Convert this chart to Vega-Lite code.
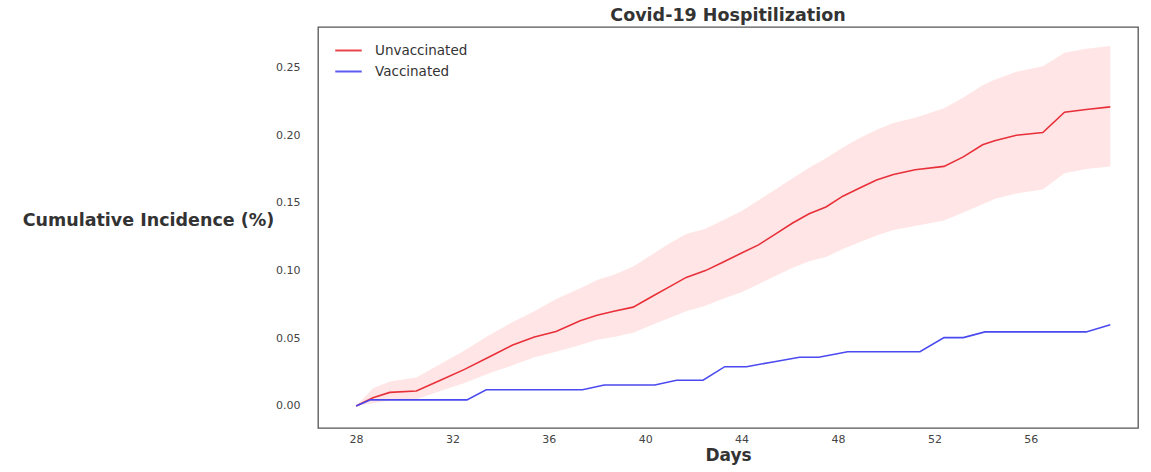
{
  "$schema": "https://vega.github.io/schema/vega-lite/v6.json",
  "autosize": {"type": "none"},
  "padding": {"left": 318, "top": 27, "right": 13, "bottom": 44},
  "width": 820,
  "height": 401,
  "background": "white",
  "config": {
    "font": "DejaVu Sans",
    "view": {"stroke": "#555555", "strokeWidth": 1.3},
    "axis": {"grid": false, "domain": false, "ticks": false, "labelColor": "#444444", "labelFontSize": 11, "labelFont": "DejaVu Sans", "titleFont": "DejaVu Sans", "titleColor": "#333333"}
  },
  "title": {"text": "Covid-19 Hospitilization", "fontSize": 17.5, "fontWeight": "bold", "color": "#333333", "offset": 3, "font": "DejaVu Sans"},
  "data": {"values": [
    {"day": 28.0, "group": "Unvaccinated", "value": 0.0, "lo": 0.0, "hi": 0.0},
    {"day": 28.7, "group": "Unvaccinated", "value": 0.006, "lo": 0.002, "hi": 0.013},
    {"day": 29.4, "group": "Unvaccinated", "value": 0.010, "lo": 0.004, "hi": 0.018},
    {"day": 30.5, "group": "Unvaccinated", "value": 0.011, "lo": 0.005, "hi": 0.021},
    {"day": 31.5, "group": "Unvaccinated", "value": 0.019, "lo": 0.011, "hi": 0.031},
    {"day": 32.5, "group": "Unvaccinated", "value": 0.027, "lo": 0.017, "hi": 0.041},
    {"day": 33.5, "group": "Unvaccinated", "value": 0.036, "lo": 0.024, "hi": 0.052},
    {"day": 34.5, "group": "Unvaccinated", "value": 0.045, "lo": 0.030, "hi": 0.062},
    {"day": 35.4, "group": "Unvaccinated", "value": 0.051, "lo": 0.036, "hi": 0.070},
    {"day": 36.3, "group": "Unvaccinated", "value": 0.055, "lo": 0.040, "hi": 0.079},
    {"day": 37.3, "group": "Unvaccinated", "value": 0.063, "lo": 0.045, "hi": 0.087},
    {"day": 38.0, "group": "Unvaccinated", "value": 0.067, "lo": 0.049, "hi": 0.093},
    {"day": 38.7, "group": "Unvaccinated", "value": 0.070, "lo": 0.051, "hi": 0.097},
    {"day": 39.5, "group": "Unvaccinated", "value": 0.073, "lo": 0.054, "hi": 0.103},
    {"day": 40.3, "group": "Unvaccinated", "value": 0.081, "lo": 0.060, "hi": 0.112},
    {"day": 41.0, "group": "Unvaccinated", "value": 0.088, "lo": 0.065, "hi": 0.120},
    {"day": 41.7, "group": "Unvaccinated", "value": 0.095, "lo": 0.070, "hi": 0.127},
    {"day": 42.5, "group": "Unvaccinated", "value": 0.100, "lo": 0.074, "hi": 0.131},
    {"day": 43.2, "group": "Unvaccinated", "value": 0.106, "lo": 0.079, "hi": 0.137},
    {"day": 44.0, "group": "Unvaccinated", "value": 0.113, "lo": 0.084, "hi": 0.144},
    {"day": 44.7, "group": "Unvaccinated", "value": 0.119, "lo": 0.090, "hi": 0.152},
    {"day": 45.4, "group": "Unvaccinated", "value": 0.127, "lo": 0.096, "hi": 0.160},
    {"day": 46.1, "group": "Unvaccinated", "value": 0.135, "lo": 0.102, "hi": 0.168},
    {"day": 46.8, "group": "Unvaccinated", "value": 0.142, "lo": 0.107, "hi": 0.176},
    {"day": 47.5, "group": "Unvaccinated", "value": 0.147, "lo": 0.110, "hi": 0.183},
    {"day": 48.2, "group": "Unvaccinated", "value": 0.155, "lo": 0.116, "hi": 0.191},
    {"day": 48.9, "group": "Unvaccinated", "value": 0.161, "lo": 0.121, "hi": 0.198},
    {"day": 49.6, "group": "Unvaccinated", "value": 0.167, "lo": 0.126, "hi": 0.204},
    {"day": 50.3, "group": "Unvaccinated", "value": 0.171, "lo": 0.130, "hi": 0.209},
    {"day": 51.2, "group": "Unvaccinated", "value": 0.1745, "lo": 0.133, "hi": 0.213},
    {"day": 52.4, "group": "Unvaccinated", "value": 0.177, "lo": 0.137, "hi": 0.220},
    {"day": 53.2, "group": "Unvaccinated", "value": 0.184, "lo": 0.143, "hi": 0.228},
    {"day": 54.0, "group": "Unvaccinated", "value": 0.193, "lo": 0.149, "hi": 0.237},
    {"day": 54.5, "group": "Unvaccinated", "value": 0.196, "lo": 0.153, "hi": 0.241},
    {"day": 55.4, "group": "Unvaccinated", "value": 0.200, "lo": 0.157, "hi": 0.247},
    {"day": 56.5, "group": "Unvaccinated", "value": 0.202, "lo": 0.160, "hi": 0.251},
    {"day": 57.4, "group": "Unvaccinated", "value": 0.217, "lo": 0.172, "hi": 0.261},
    {"day": 58.3, "group": "Unvaccinated", "value": 0.219, "lo": 0.175, "hi": 0.264},
    {"day": 59.3, "group": "Unvaccinated", "value": 0.221, "lo": 0.177, "hi": 0.266},
    {"day": 28.0, "group": "Vaccinated", "value": 0.0},
    {"day": 28.6, "group": "Vaccinated", "value": 0.0045},
    {"day": 32.6, "group": "Vaccinated", "value": 0.0045},
    {"day": 33.4, "group": "Vaccinated", "value": 0.012},
    {"day": 37.4, "group": "Vaccinated", "value": 0.012},
    {"day": 38.3, "group": "Vaccinated", "value": 0.0155},
    {"day": 40.4, "group": "Vaccinated", "value": 0.0155},
    {"day": 41.3, "group": "Vaccinated", "value": 0.019},
    {"day": 42.4, "group": "Vaccinated", "value": 0.019},
    {"day": 43.3, "group": "Vaccinated", "value": 0.029},
    {"day": 44.2, "group": "Vaccinated", "value": 0.029},
    {"day": 45.3, "group": "Vaccinated", "value": 0.0325},
    {"day": 46.4, "group": "Vaccinated", "value": 0.036},
    {"day": 47.2, "group": "Vaccinated", "value": 0.036},
    {"day": 48.4, "group": "Vaccinated", "value": 0.040},
    {"day": 51.4, "group": "Vaccinated", "value": 0.040},
    {"day": 52.4, "group": "Vaccinated", "value": 0.0505},
    {"day": 53.2, "group": "Vaccinated", "value": 0.0505},
    {"day": 54.1, "group": "Vaccinated", "value": 0.0547},
    {"day": 58.3, "group": "Vaccinated", "value": 0.0547},
    {"day": 59.3, "group": "Vaccinated", "value": 0.060}
  ]},
  "encoding": {
    "x": {"field": "day", "type": "quantitative",
      "scale": {"domain": [26.42, 60.45], "nice": false, "zero": false},
      "axis": {"values": [28, 32, 36, 40, 44, 48, 52, 56], "labelPadding": 5, "title": "Days", "titleFontSize": 17, "titleFontWeight": "bold", "titlePadding": 3}
    }
  },
  "layer": [
    {
      "transform": [{"filter": "datum.group === 'Unvaccinated'"}],
      "mark": {"type": "area", "color": "#fc0000", "opacity": 0.1},
      "encoding": {
        "y": {"field": "lo", "type": "quantitative"},
        "y2": {"field": "hi"}
      }
    },
    {
      "mark": {"type": "line", "strokeWidth": 1.6},
      "encoding": {
        "y": {"field": "value", "type": "quantitative",
          "scale": {"domain": [-0.0163, 0.28], "nice": false, "zero": false},
          "axis": {"values": [0, 0.05, 0.1, 0.15, 0.2, 0.25], "format": ".2f", "labelPadding": 18,
            "title": "Cumulative Incidence (%)", "titleAngle": 0, "titleFontSize": 17.5, "titleFontWeight": "bold",
            "titleX": -170, "titleY": 193, "titleAlign": "center", "titleBaseline": "middle"}
        },
        "color": {"field": "group", "type": "nominal",
          "scale": {"domain": ["Unvaccinated", "Vaccinated"], "range": ["#e8303a", "#4a4af0"]},
          "legend": {"title": null, "orient": "none", "legendX": 16, "legendY": 9, "symbolType": "stroke", "symbolSize": 700, "symbolStrokeWidth": 2, "labelFontSize": 13.5, "labelColor": "#333333", "labelOffset": 12, "rowPadding": 0, "symbolOpacity": 0.9}
        }
      }
    }
  ]
}
